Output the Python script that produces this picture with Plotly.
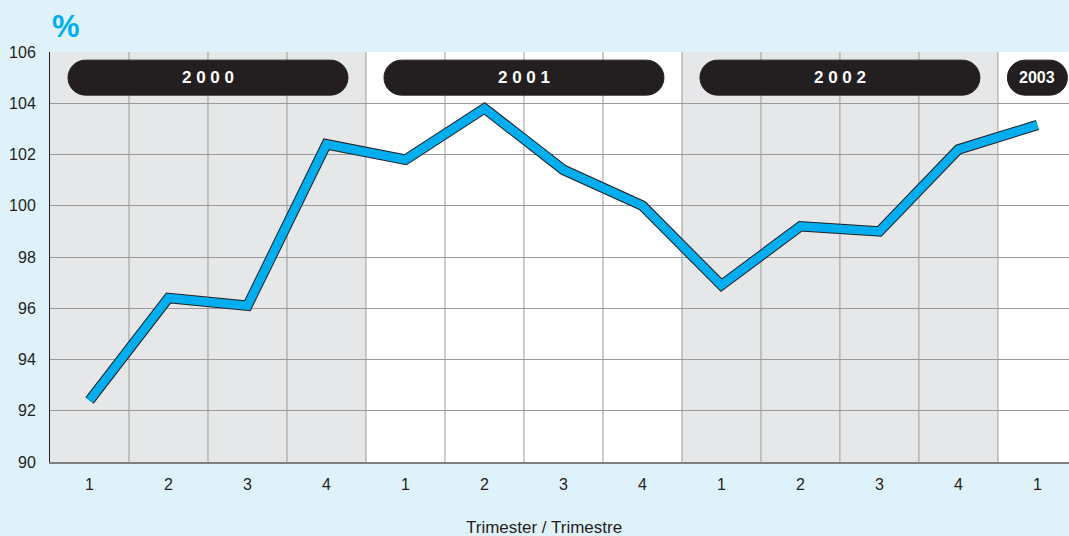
import plotly.graph_objects as go

# ---- data ----
years = ["2000", "2001", "2002", "2003"]
quarters_per_year = [4, 4, 4, 1]
quarter_labels = ["1", "2", "3", "4", "1", "2", "3", "4", "1", "2", "3", "4", "1"]
values = [92.4, 96.4, 96.1, 102.4, 101.8, 103.8, 101.4, 100.0, 96.9, 99.2, 99.0, 102.2, 103.15]
year_labels = ["2 0 0 0", "2 0 0 1", "2 0 0 2", "2003"]
shaded = [True, False, True, False]

# ---- layout constants ----
W, H = 1069, 536
ML, MR, MT, MB = 50, 0, 52, 74
XR = [-0.5, 12.4]
YR = [90, 106]
px_x = (W - ML - MR) / (XR[1] - XR[0])
px_y = (H - MT - MB) / (YR[1] - YR[0])

BG = "#dff2fc"
GRAY = "#e6e7e8"
GRID = "#9a9a9a"
BLUE = "#00aeef"
DARK = "#231f20"

x = list(range(len(values)))

fig = go.Figure()
fig.add_trace(go.Scatter(x=x, y=values, mode="lines",
                         line=dict(color=DARK, width=10.5), hoverinfo="skip", showlegend=False))
fig.add_trace(go.Scatter(x=x, y=values, mode="lines",
                         line=dict(color=BLUE, width=8.5), showlegend=False))

shapes = []
annotations = []

def pill_path(x0, x1, yc, h_px):
    r = h_px / 2
    rx = r / px_x
    ry = r / px_y
    k = 0.5523
    yt, yb = yc + ry, yc - ry
    p = (f"M {x0+rx},{yt} L {x1-rx},{yt} "
         f"C {x1-rx+k*rx},{yt} {x1},{yc+k*ry} {x1},{yc} "
         f"C {x1},{yc-k*ry} {x1-rx+k*rx},{yb} {x1-rx},{yb} "
         f"L {x0+rx},{yb} "
         f"C {x0+rx-k*rx},{yb} {x0},{yc-k*ry} {x0},{yc} "
         f"C {x0},{yc+k*ry} {x0+rx-k*rx},{yt} {x0+rx},{yt} Z")
    return p

start = -0.5
for yr, n, lab, sh in zip(years, quarters_per_year, year_labels, shaded):
    end = start + n
    shapes.append(dict(type="rect", xref="x", yref="y", x0=start, x1=end, y0=YR[0], y1=YR[1],
                       fillcolor=GRAY if sh else "white", line=dict(width=0), layer="below"))
    c = (start + end) / 2
    half_px = n * px_x / 2 - 18 if n > 1 else 30
    hw = half_px / px_x
    shapes.append(dict(type="path", xref="x", yref="y", path=pill_path(c - hw, c + hw, 105.0, 35),
                       fillcolor=DARK, line=dict(color=DARK, width=1), layer="above"))
    annotations.append(dict(x=c, y=105.0, xref="x", yref="y", text=f"<b>{lab}</b>", showarrow=False,
                            font=dict(family="Liberation Sans, Arial", size=17 if n > 1 else 16, color="white")))
    start = end

# vertical grid lines at quarter boundaries
for i in range(len(values)):
    shapes.append(dict(type="line", xref="x", yref="y", x0=i + 0.5, x1=i + 0.5, y0=YR[0], y1=YR[1],
                       line=dict(color=GRID, width=1), layer="between"))

annotations.append(dict(x=0, y=1, xref="paper", yref="paper", xanchor="left", yanchor="bottom", yshift=6,
                        text="<b>%</b>", showarrow=False,
                        font=dict(family="Liberation Sans, Arial", size=31, color=BLUE)))
annotations.append(dict(xref="paper", yref="paper",
                        x=(544 - ML) / (W - ML - MR), y=-(527 - (H - MB)) / (H - MT - MB),
                        yanchor="middle", xanchor="center", showarrow=False,
                        text="Trimester / Trimestre",
                        font=dict(family="Liberation Sans, Arial", size=17, color=DARK)))

fig.update_layout(
    width=W, height=H,
    margin=dict(l=ML, r=MR, t=MT, b=MB),
    paper_bgcolor=BG, plot_bgcolor="white",
    font=dict(family="Liberation Sans, Arial", size=16, color=DARK),
    shapes=shapes, annotations=annotations,
    xaxis=dict(range=XR, tickvals=x, ticktext=quarter_labels, showgrid=False, zeroline=False,
               showline=True, linecolor="#7f7f7f", linewidth=2, ticks="outside", ticklen=7,
               tickcolor="rgba(0,0,0,0)", tickfont=dict(size=16, color=DARK)),
    yaxis=dict(range=YR, tickvals=list(range(90, 107, 2)), showgrid=True, gridcolor=GRID, gridwidth=1,
               zeroline=False, showline=True, linecolor=DARK, linewidth=1, ticks="outside", ticklen=10,
               tickcolor="rgba(0,0,0,0)", tickfont=dict(size=16, color=DARK)),
)

fig.write_html("out.html", config={"displayModeBar": False},
               post_script="document.body.style.margin='0';document.body.style.overflow='hidden';")
